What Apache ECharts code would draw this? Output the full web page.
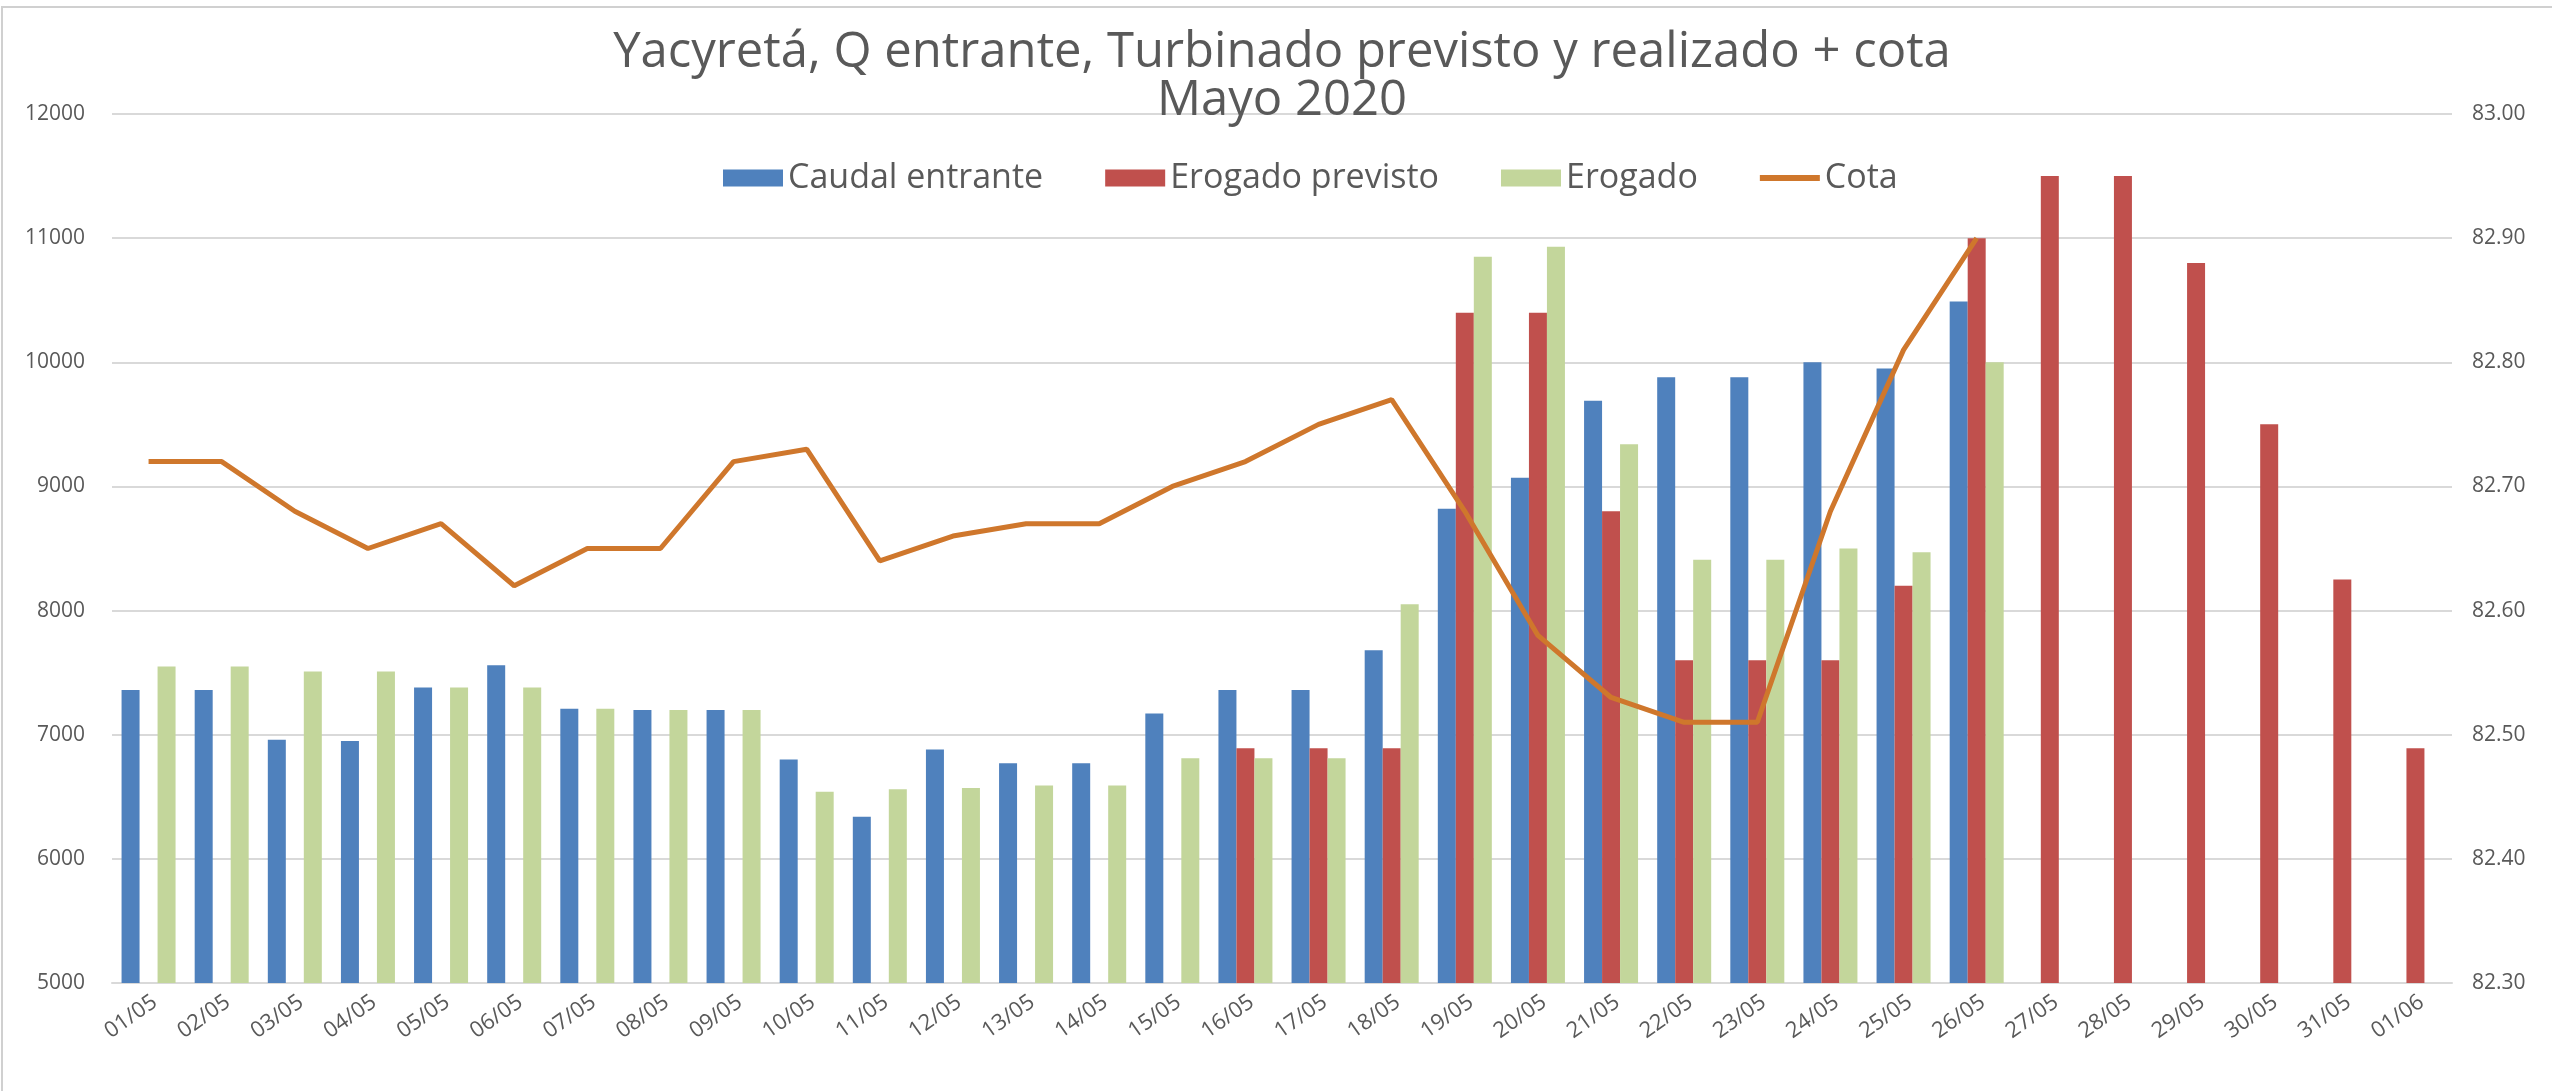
<!DOCTYPE html>
<html lang="es">
<head>
    <meta charset="UTF-8">
    <title>Yacyretá - Mayo 2020</title>
    <script src="https://cdn.jsdelivr.net/npm/echarts@6/dist/echarts.min.js"></script>
    <style>
        html, body { margin: 0; padding: 0; background: #fff; }
    </style>
</head>
<body>
<div id="main" style="width: 2552px;height: 1091px"></div>
<script type="text/javascript">
  // dias de mayo + 1 de junio
  var dias = ['01/05', '02/05', '03/05', '04/05', '05/05', '06/05', '07/05', '08/05',
    '09/05', '10/05', '11/05', '12/05', '13/05', '14/05', '15/05', '16/05',
    '17/05', '18/05', '19/05', '20/05', '21/05', '22/05', '23/05', '24/05',
    '25/05', '26/05', '27/05', '28/05', '29/05', '30/05', '31/05', '01/06'];

  var caudalEntrante = [7360, 7360, 6960, 6950, 7380, 7560, 7210, 7200, 7200, 6800,
    6340, 6880, 6770, 6770, 7170, 7360, 7360, 7680, 8820, 9070,
    9690, 9880, 9880, 10000, 9950, 10490, null, null, null, null, null, null];

  var erogadoPrevisto = [null, null, null, null, null, null, null, null, null, null,
    null, null, null, null, null, 6890, 6890, 6890, 10400, 10400,
    8800, 7600, 7600, 7600, 8200, 11000, 11500, 11500, 10800, 9500, 8250, 6890];

  var erogado = [7550, 7550, 7510, 7510, 7380, 7380, 7210, 7200, 7200, 6540,
    6560, 6570, 6590, 6590, 6810, 6810, 6810, 8050, 10850, 10930,
    9340, 8410, 8410, 8500, 8470, 10000, null, null, null, null, null, null];

  var cota = [82.72, 82.72, 82.68, 82.65, 82.67, 82.62, 82.65, 82.65, 82.72, 82.73,
    82.64, 82.66, 82.67, 82.67, 82.70, 82.72, 82.75, 82.77, 82.68, 82.58,
    82.53, 82.51, 82.51, 82.68, 82.81, 82.90, null, null, null, null, null, null];

  var gris = '#595959';
  var fuente = 'Open Sans';

  var myChart = echarts.init(document.getElementById('main'));

  var option = {
    backgroundColor: '#ffffff',
    animation: false,
    textStyle: { fontFamily: fuente },
    title: {
      text: 'Yacyretá, Q entrante, Turbinado previsto y realizado + cota\nMayo 2020',
      left: 1277,
      top: 24,
      textAlign: 'center',
      textStyle: {
        color: gris,
        fontFamily: fuente,
        fontWeight: 'normal',
        fontSize: 49,
        lineHeight: 48
      }
    },
    legend: {
      top: 156,
      left: 718,
      itemWidth: 60,
      itemHeight: 17,
      itemGap: 62,
      textStyle: { color: gris, fontSize: 34, fontFamily: fuente },
      data: [
        { name: 'Caudal entrante', icon: 'rect' },
        { name: 'Erogado previsto', icon: 'rect' },
        { name: 'Erogado', icon: 'rect' },
        { name: 'Cota', icon: 'path://M0,0h60v6h-60z' }
      ]
    },
    grid: {
      left: 112,
      right: 100,
      top: 114,
      bottom: 108
    },
    xAxis: {
      type: 'category',
      data: dias,
      axisLine: { show: true, lineStyle: { color: '#D9D9D9', width: 2 } },
      axisTick: { show: false },
      axisLabel: {
        color: gris,
        fontSize: 22,
        rotate: 35,
        margin: 8,
        verticalAlign: 'top'
      }
    },
    yAxis: [{
      type: 'value',
      min: 5000,
      max: 12000,
      interval: 1000,
      axisLine: { show: false },
      axisTick: { show: false },
      axisLabel: {
        color: gris,
        fontSize: 21,
        margin: 27,
        formatter: function (v) { return String(v); }
      },
      splitLine: { lineStyle: { color: '#D9D9D9', width: 2 } }
    }, {
      type: 'value',
      min: 82.3,
      max: 83.0,
      interval: 0.1,
      axisLine: { show: false },
      axisTick: { show: false },
      splitLine: { show: false },
      axisLabel: {
        color: gris,
        fontSize: 21,
        margin: 20,
        formatter: function (v) { return v.toFixed(2); }
      }
    }],
    series: [{
      name: 'Caudal entrante',
      type: 'bar',
      barWidth: 18,
      barGap: '0%',
      itemStyle: { color: '#4F81BD' },
      data: caudalEntrante
    }, {
      name: 'Erogado previsto',
      type: 'bar',
      barWidth: 18,
      barGap: '0%',
      itemStyle: { color: '#C0504D' },
      data: erogadoPrevisto
    }, {
      name: 'Erogado',
      type: 'bar',
      barWidth: 18,
      barGap: '0%',
      itemStyle: { color: '#C3D69B' },
      data: erogado
    }, {
      name: 'Cota',
      type: 'line',
      yAxisIndex: 1,
      symbol: 'none',
      lineStyle: { color: '#CF772C', width: 5 },
      itemStyle: { color: '#CF772C' },
      z: 5,
      data: cota
    }],
    graphic: [{
      // borde del grafico original
      type: 'polyline',
      shape: { points: [[2, 1091], [2, 7], [2552, 7]] },
      style: { stroke: '#D0D0D0', lineWidth: 2, fill: null }
    }]
  };

  myChart.setOption(option);
</script>
</body>
</html>
